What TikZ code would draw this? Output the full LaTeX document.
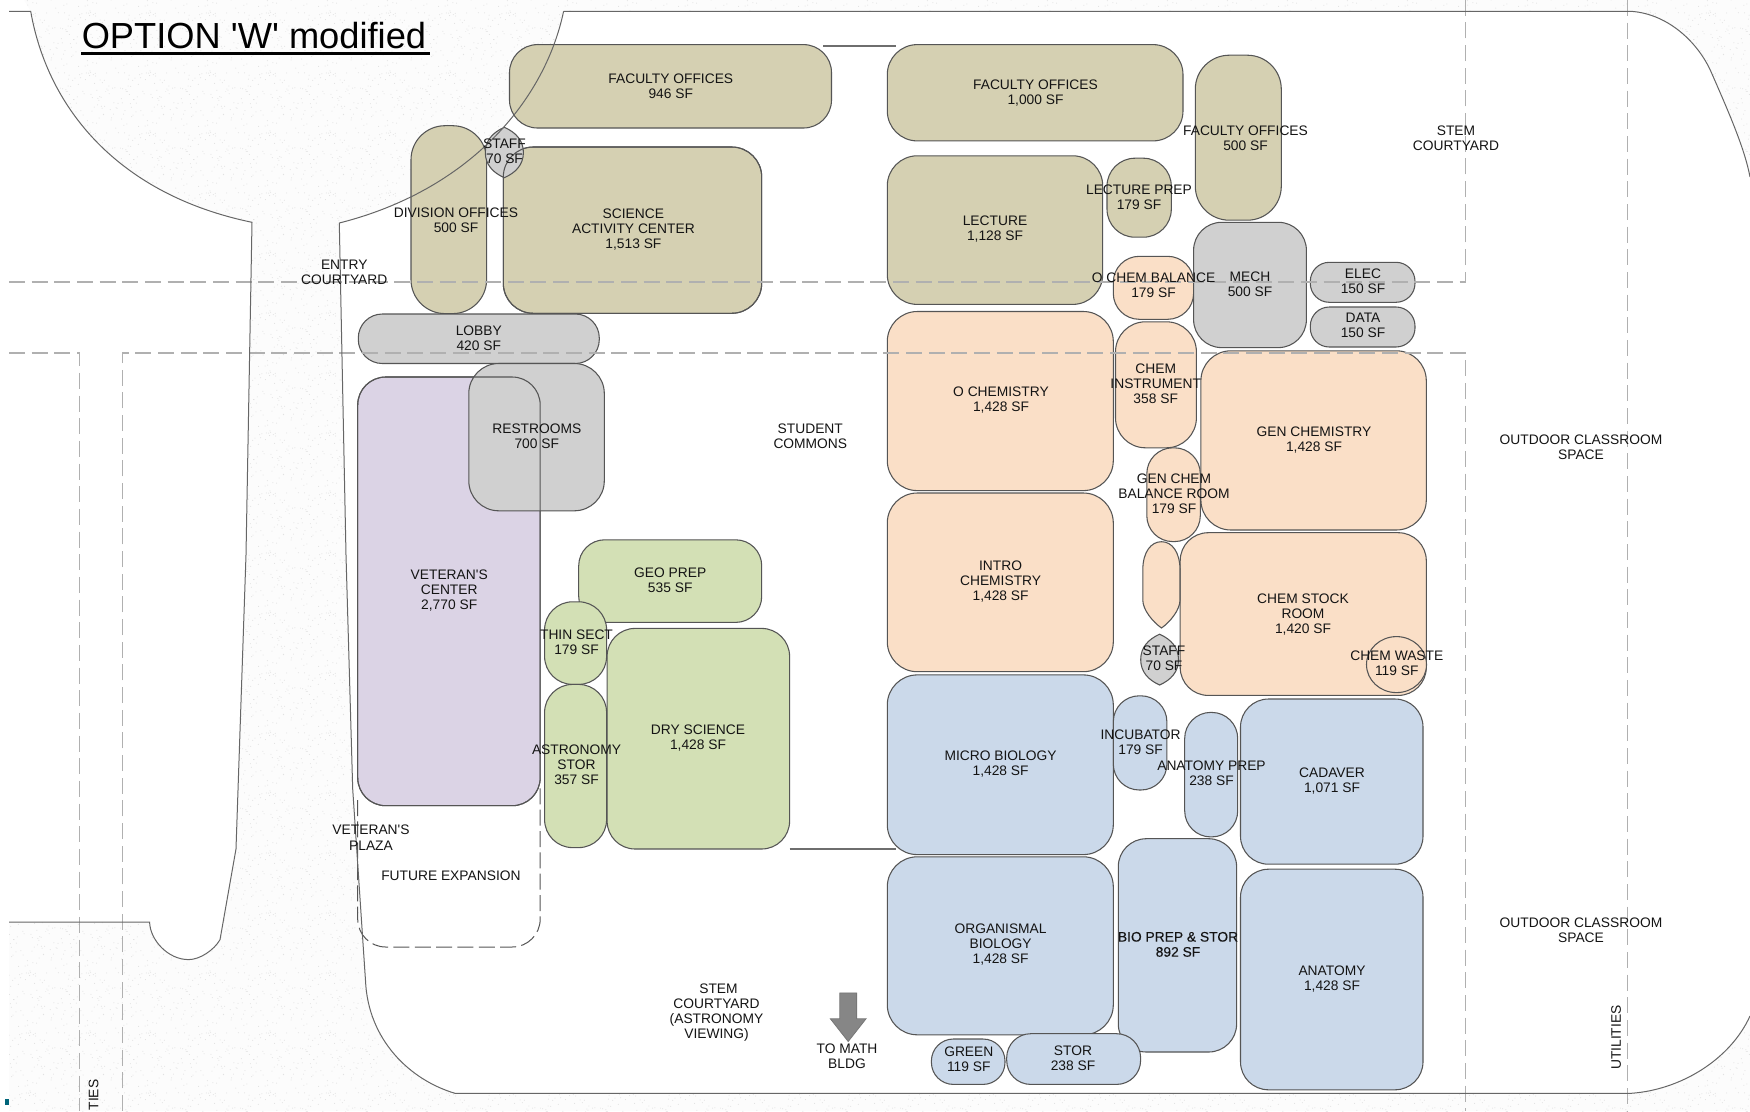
\documentclass[tikz,border=0pt]{standalone}
\usepackage{fontspec}
\setmainfont{Liberation Sans}
\newfontfamily\plainf{Liberation Sans}
\newfontfamily\boldishf[FakeBold=0.25]{Liberation Sans}
\usetikzlibrary{patterns}
\definecolor{tanc}{HTML}{D5D0B2}
\definecolor{peach}{HTML}{FADFC7}
\definecolor{bluec}{HTML}{CBD9EA}
\definecolor{greenc}{HTML}{D3E0B5}
\definecolor{purp}{HTML}{DBD3E5}
\definecolor{grayc}{HTML}{D0D0D0}
\definecolor{edge}{HTML}{555555}
\definecolor{dashc}{HTML}{B0B0B0}
\definecolor{speckbase}{HTML}{FCFCFC}
\definecolor{speckdot}{HTML}{DEDEDE}
\definecolor{teal}{HTML}{00657A}
\pgfdeclarepatternformonly{speck}{\pgfqpoint{0pt}{0pt}}{\pgfqpoint{45pt}{45pt}}{\pgfqpoint{45pt}{45pt}}{%
  \foreach \i in {1,...,90}{%
    \pgfmathsetmacro\spa{mod(\i*23.37,45)}%
    \pgfmathsetmacro\spb{mod(mod(\i*\i,97)*3.71+\i*11.3,45)}%
    \pgfpathcircle{\pgfqpoint{\spa pt}{\spb pt}}{0.38pt}\pgfusepath{fill}%
  }}
\tikzset{
  roomline/.style={draw=edge,line width=0.8pt},
  site/.style={draw=edge!90,line width=0.75pt},
  grid/.style={draw=dashc,line width=1pt,dash pattern=on 12pt off 5pt},
  lbl/.style={font={\plainf\fontsize{10.35pt}{11.33pt}\selectfont},align=center,inner sep=0pt,text=black!92,yshift=0.25pt},
  stub/.style={draw=edge!85,line width=0.9pt},
}
\newcommand{\room}[6]{\path[roomline,fill=#6,rounded corners={#5*0.75pt}] (#1,#2) rectangle (#3,#4);}
\newcommand{\lensroom}[5]{%
  \pgfmathsetmacro\lw{#3-#1}\pgfmathsetmacro\lh{#4-#2}%
  \pgfmathsetmacro\lcx{(#1+#3)/2}\pgfmathsetmacro\lcy{(#2+#4)/2}%
  \pgfmathsetmacro\la{#1+0.2*\lw}\pgfmathsetmacro\lb{#3-0.2*\lw}%
  \pgfmathsetmacro\lc{#2+0.1*\lh}\pgfmathsetmacro\ld{#2+0.26*\lh}%
  \pgfmathsetmacro\le{#4-0.26*\lh}\pgfmathsetmacro\lf{#4-0.1*\lh}%
  \path[roomline,fill=#5] (\lcx,#2) .. controls (\lb,\lc) and (#3,\ld) .. (#3,\lcy)
    .. controls (#3,\le) and (\lb,\lf) .. (\lcx,#4)
    .. controls (\la,\lf) and (#1,\le) .. (#1,\lcy)
    .. controls (#1,\ld) and (\la,\lc) .. (\lcx,#2) -- cycle;}
\begin{document}
\begin{tikzpicture}[x=0.75pt,y=-0.75pt]
\useasboundingbox (0,0) rectangle (1750,1111);
% speckled ground
\fill[speckbase] (9,0) rectangle (1750,1111);
\fill[pattern=speck,pattern color=speckdot] (9,0) rectangle (1750,1111);
\fill[white] (0,0) rectangle (9,1111);
% white left piece
\fill[white] (0,0) -- (24,0) -- (30.7,11.3) .. controls (48,110) and (120,195) .. (252,222.3)
  -- (246,555) -- (236,849) -- (220,939.7) .. controls (214,950) and (200,959.6) .. (188.6,959.6)
  .. controls (168,959.6) and (150,940) .. (149.6,922) -- (0,922) -- cycle;
% white site interior
\fill[white] (563.6,11.3) -- (1631,11.3) .. controls (1670,14) and (1700,45) .. (1712,74)
  .. controls (1730,115) and (1745,150) .. (1750,177) -- (1750,1016)
  .. controls (1730,1060) and (1680,1090) .. (1631,1093.3) -- (455,1093.3)
  .. controls (410,1080) and (368,1040) .. (365.5,980.5) -- (352.7,789) -- (346,555) -- (339.3,223)
  .. controls (470,190) and (545,100) .. (563.6,11.3) -- cycle;
% rooms
\room{509.5}{44.6}{831.5}{128}{28}{tanc}
\room{411}{125.7}{486.6}{313.6}{34}{tanc}
\room{503.3}{147}{761.7}{313.3}{30}{tanc}
\lensroom{485.3}{127.3}{523.4}{177.7}{grayc}
\path[roomline,rounded corners=22.5pt] (503.3,147) rectangle (761.7,313.3);
\room{358.3}{314}{599.3}{363.5}{24}{grayc}
\room{357.7}{377}{540.2}{805.7}{28}{purp}
\room{468.8}{363.5}{604.3}{510.8}{30}{grayc}
\path[roomline,rounded corners=21pt] (357.7,377) rectangle (540.2,805.7);
\room{578.7}{539.8}{761.7}{622.4}{26}{greenc}
\room{607.1}{628.4}{789.6}{849}{28}{greenc}
\room{544.6}{601.8}{606.6}{684.4}{28}{greenc}
\room{544.6}{684.4}{606.6}{847.6}{28}{greenc}
\room{887.3}{44.6}{1183}{140.9}{30}{tanc}
\room{1195.3}{55.2}{1281.3}{220.2}{34}{tanc}
\room{887.3}{155.8}{1102.7}{304.4}{30}{tanc}
\room{1107}{158.2}{1171.3}{237.2}{28}{tanc}
\room{1113.3}{256.3}{1193.6}{319.3}{26}{peach}
\room{1193.6}{222.3}{1306.4}{347.6}{28}{grayc}
\room{1310.3}{262.3}{1415}{302.3}{19}{grayc}
\room{1310.3}{307}{1415}{347}{19}{grayc}
\room{887.3}{311.5}{1113.3}{490.6}{30}{peach}
\room{1115.5}{321.8}{1196.4}{447.8}{30}{peach}
\room{1200.9}{350.8}{1426.3}{530}{30}{peach}
\room{1146.8}{447.8}{1200.3}{541.6}{26}{peach}
\room{887.3}{493}{1113.3}{671.7}{30}{peach}
\room{1180.2}{532.7}{1426.3}{695.4}{28}{peach}
\path[roomline,fill=peach] (1161.5,541.7) .. controls (1172,541.7) and (1180,552) .. (1180,570) -- (1180,600)
  .. controls (1180,610) and (1170,622) .. (1161.5,628) .. controls (1153,622) and (1142.8,610) .. (1142.8,600)
  -- (1142.8,570) .. controls (1142.8,552) and (1151,541.7) .. (1161.5,541.7) -- cycle;
\path[roomline,fill=peach] (1396.5,664.6) ellipse [x radius=30,y radius=28];
\lensroom{1140.7}{634.2}{1178.5}{685}{grayc}
\room{887.3}{674.9}{1113.3}{854.6}{30}{bluec}
\room{1113.3}{695.8}{1166.9}{790}{26}{bluec}
\room{1184.7}{712.4}{1237.7}{836.9}{26}{bluec}
\room{1240.5}{699}{1423}{864.2}{28}{bluec}
\room{1240.5}{869.2}{1423}{1089.8}{28}{bluec}
\room{887.3}{856.8}{1113.3}{1034.8}{30}{bluec}
\room{1118.3}{838.7}{1236.6}{1052}{28}{bluec}
\room{931.4}{1039}{1005}{1084.4}{22}{bluec}
\room{1006.7}{1033.7}{1140.6}{1084.4}{24}{bluec}
% future expansion (dashed outline)
\draw[draw=edge,line width=0.75pt,dash pattern=on 12pt off 4pt,rounded corners=21pt]
  (357.7,800) -- (357.7,947) -- (540.2,947) -- (540.2,786);
% grid lines
\draw[grid] (9,282) -- (1465.4,282) -- (1465.4,0);
\draw[grid] (9,353) -- (79.8,353) -- (79.8,1111);
\draw[grid] (122.8,1111) -- (122.8,353) -- (1465.4,353) -- (1465.4,1111);
\draw[grid] (1627.8,0) -- (1627.8,1111);
% site outline
\draw[site] (9,11.3) -- (30.7,11.3) .. controls (48,110) and (120,195) .. (252,222.3)
  -- (246,555) -- (236,849) -- (220,939.7) .. controls (214,950) and (200,959.6) .. (188.6,959.6)
  .. controls (168,959.6) and (150,940) .. (149.6,922) -- (9,922);
\draw[site] (563.6,11.3) -- (1631,11.3) .. controls (1670,14) and (1700,45) .. (1712,74)
  .. controls (1730,115) and (1745,150) .. (1750,177);
\draw[site] (1750,1016) .. controls (1730,1060) and (1680,1090) .. (1631,1093.3) -- (455,1093.3)
  .. controls (410,1080) and (368,1040) .. (365.5,980.5) -- (352.7,789) -- (346,555) -- (339.3,223)
  .. controls (470,190) and (545,100) .. (563.6,11.3);
% short wall stubs
\coordinate (stubA) at (823,46); \coordinate (stubB) at (896,46);
\coordinate (stubC) at (789.6,849); \coordinate (stubD) at (896,849);
\draw[stub] (stubA) -- (stubB);
\draw[stub] (stubC) -- (stubD);
% arrow
\path[fill=gray!95,draw=edge!80,line width=0.6pt] (839.8,992.9) -- (856.6,992.9) -- (856.6,1018.8) -- (866,1018.8)
  -- (848.2,1041.5) -- (830.4,1018.8) -- (839.8,1018.8) -- cycle;
\fill[teal] (5,1098.6) rectangle (9,1104.6);
% title
\node[inner sep=0pt,anchor=base west,font={\plainf\fontsize{27.2pt}{30pt}\selectfont},text=black] (title) at (81.5,48.4) {OPTION 'W' modified};
\coordinate (ulA) at (81,53.5); \coordinate (ulB) at (429.5,53.5);
\draw[black,line width=1.9pt] (ulA) -- (ulB);
% labels
\node[lbl] (l1) at (670.8,86.2) {FACULTY OFFICES\\946 SF};
\node[lbl] (l2) at (1035.5,93) {FACULTY OFFICES\\1,000 SF};
\node[lbl] (l3) at (1245.5,138.5) {FACULTY OFFICES\\500 SF};
\node[lbl] (l4) at (504.5,152) {STAFF\\70 SF};
\node[lbl] (l5) at (456,220.5) {DIVISION OFFICES\\500 SF};
\node[lbl] (l6) at (633.4,229.7) {SCIENCE\\ACTIVITY CENTER\\1,513 SF};
\node[lbl] (l7) at (344.3,273) {ENTRY\\COURTYARD};
\node[lbl] (l8) at (478.8,338.5) {LOBBY\\420 SF};
\node[lbl] (l9) at (536.8,436.6) {RESTROOMS\\700 SF};
\node[lbl] (l10) at (810.3,436.8) {STUDENT\\COMMONS};
\node[lbl] (l11) at (449.2,590.8) {VETERAN'S\\CENTER\\2,770 SF};
\node[lbl] (l12) at (670.2,580.8) {GEO PREP\\535 SF};
\node[lbl] (l13) at (576.5,642.8) {THIN SECT\\179 SF};
\node[lbl] (l14) at (576.5,764.8) {ASTRONOMY\\STOR\\357 SF};
\node[lbl] (l15) at (698,738.5) {DRY SCIENCE\\1,428 SF};
\node[lbl] (l16) at (371,838) {VETERAN'S\\PLAZA};
\node[lbl] (l17) at (450.9,876) {FUTURE EXPANSION};
\node[lbl] (l18) at (716.5,1013) {{\hspace*{3pt}STEM}\\COURTYARD\\(ASTRONOMY\\VIEWING)};
\node[lbl] (l19) at (847,1056.5) {TO MATH\\BLDG};
\node[lbl] (l20) at (995,229.8) {LECTURE\\1,128 SF};
\node[lbl] (l21) at (1139,197.5) {LECTURE PREP\\179 SF};
\node[lbl] (l22) at (1153.5,285.5) {O CHEM BALANCE\\179 SF};
\node[lbl] (l23) at (1250,284.5) {MECH\\500 SF};
\node[lbl] (l24) at (1363,281.5) {ELEC\\150 SF};
\node[lbl] (l25) at (1363,325.5) {DATA\\150 SF};
\node[lbl] (l26) at (1456,138.7) {STEM\\COURTYARD};
\node[lbl] (l27) at (1001,400.8) {O CHEMISTRY\\1,428 SF};
\node[lbl] (l28) at (1155.7,384) {CHEM\\INSTRUMENT\\358 SF};
\node[lbl] (l29) at (1314,440.2) {GEN CHEMISTRY\\1,428 SF};
\node[lbl] (l30) at (1174,494) {GEN CHEM\\BALANCE ROOM\\179 SF};
\node[lbl] (l31) at (1581,447.5) {OUTDOOR CLASSROOM\\SPACE};
\node[lbl] (l32) at (1000.6,581.7) {INTRO\\CHEMISTRY\\1,428 SF};
\node[lbl] (l33) at (1303,614.7) {CHEM STOCK\\ROOM\\1,420 SF};
\node[lbl] (l34) at (1396.8,664) {CHEM WASTE\\119 SF};
\node[lbl] (l35) at (1164,658.7) {STAFF\\70 SF};
\node[lbl] (l36) at (1000.6,764) {MICRO BIOLOGY\\1,428 SF};
\node[lbl] (l37) at (1140.6,742.3) {INCUBATOR\\179 SF};
\node[lbl] (l38) at (1211.5,773.8) {ANATOMY PREP\\238 SF};
\node[lbl] (l39) at (1332,781.2) {CADAVER\\1,071 SF};
\node[lbl] (l40) at (1000.6,944.8) {ORGANISMAL\\BIOLOGY\\1,428 SF};
\node[lbl,font={\boldishf\fontsize{10.35pt}{11.33pt}\selectfont}] (l41) at (1178,944.7) {BIO PREP \& STOR\\892 SF};
\node[lbl] (l42) at (1332,979.2) {ANATOMY\\1,428 SF};
\node[lbl] (l43) at (1581,930.7) {OUTDOOR CLASSROOM\\SPACE};
\node[lbl] (l44) at (968.8,1059.3) {GREEN\\119 SF};
\node[lbl] (l45) at (1073,1058.3) {STOR\\238 SF};
\node[lbl,rotate=90] (l46) at (1616,1038) {UTILITIES};
\node[lbl,rotate=90,anchor=west] (l47) at (93.7,1111) {TIES};
\end{tikzpicture}
\end{document}
